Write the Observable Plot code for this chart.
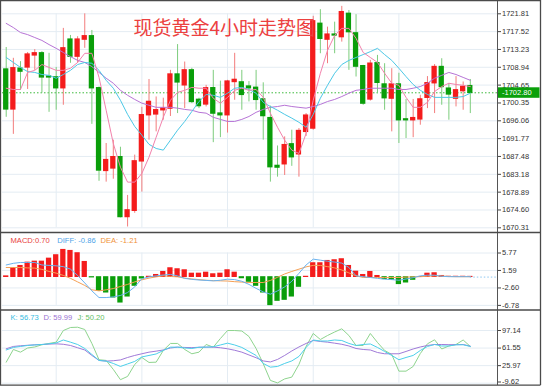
<!DOCTYPE html>
<html><head><meta charset="utf-8">
<script src="https://cdn.jsdelivr.net/npm/d3@7"></script>
<script src="https://cdn.jsdelivr.net/npm/@observablehq/plot@0.6"></script>
<style>
body{margin:0;background:#fff;}
#wrap{position:relative;width:550px;height:386px;overflow:hidden;background:#fff;}
#wrap > svg{position:absolute;left:0;}
</style></head><body><div id="wrap"></div>
<script>
// ---------- data ----------
const title = "现货黄金4小时走势图";
const open  = [1708.4,1698.8,1708.6,1708.9,1711.8,1712.3,1706.7,1706.5,1703.9,1715.6,1711.5,1715.6,1716.4,1703.9,1684.0,1684.6,1687.3,1672.9,1674.4,1686.3,1697.4,1697.6,1698.6,1699.0,1707.2,1704.6,1708.2,1701.1,1700.0,1703.9,1697.8,1697.4,1705.4,1705.3,1704.3,1704.0,1701.2,1696.7,1685.2,1685.6,1690.4,1688.0,1693.4,1694.2,1719.4,1715.6,1716.8,1716.2,1721.8,1717.1,1709.2,1701.2,1709.9,1704.8,1701.4,1704.8,1696.4,1696.2,1696.4,1701.6,1705.1,1709.0,1703.8,1701.4,1703.2,1704.4];
const high  = [1713.7,1711.1,1710.3,1712.5,1713.2,1712.7,1712.3,1708.9,1718.3,1716.6,1716.3,1721.8,1717.8,1704.2,1690.6,1691.4,1689.7,1678.1,1687.8,1699.3,1706.0,1701.8,1701.5,1708.2,1714.4,1710.2,1708.7,1701.5,1704.6,1708.2,1705.6,1705.8,1712.3,1708.2,1705.5,1708.2,1705.2,1699.6,1690.0,1692.2,1693.8,1694.2,1697.8,1721.2,1722.8,1718.6,1719.8,1723.6,1722.6,1721.6,1709.4,1710.6,1711.8,1709.8,1708.6,1707.5,1701.2,1701.2,1702.2,1706.7,1709.6,1711.0,1705.0,1706.7,1705.4,1706.0];
const low   = [1696.9,1692.8,1703.4,1703.6,1708.2,1702.7,1698.1,1698.6,1699.8,1709.9,1709.9,1713.5,1695.2,1681.5,1681.3,1682.0,1672.7,1670.5,1673.8,1678.9,1691.4,1693.4,1696.2,1697.1,1697.8,1699.0,1700.2,1699.0,1699.4,1690.8,1692.0,1693.1,1701.0,1698.6,1700.6,1698.6,1691.4,1681.3,1682.5,1682.9,1685.1,1682.5,1692.3,1693.8,1712.2,1709.8,1712.2,1715.0,1708.2,1706.6,1699.8,1700.8,1702.6,1698.6,1693.4,1690.6,1691.8,1692.0,1695.0,1699.0,1697.8,1699.8,1696.2,1699.4,1698.6,1697.8];
const close = [1698.8,1708.7,1707.9,1712.0,1712.3,1706.5,1706.5,1703.9,1713.5,1711.5,1715.6,1716.4,1703.9,1684.1,1686.6,1687.3,1672.9,1674.5,1686.3,1697.4,1700.6,1698.6,1699.0,1707.2,1705.3,1708.2,1700.6,1699.6,1703.9,1697.8,1697.4,1705.5,1705.9,1702.3,1703.9,1701.1,1697.2,1684.9,1684.8,1690.2,1687.3,1693.6,1697.3,1720.0,1715.8,1716.8,1716.6,1722.2,1717.4,1709.1,1700.2,1709.8,1705.2,1701.5,1704.8,1696.2,1696.2,1696.7,1701.2,1705.1,1709.0,1704.2,1702.4,1703.4,1704.2,1702.8];
const ma5   = [1703.9,1703.6,1703.6,1707.7,1708.2,1709.6,1708.9,1708.2,1708.2,1708.7,1710.1,1712.3,1712.3,1706.5,1698.6,1690.6,1684.9,1681.3,1681.3,1683.4,1687.3,1692.1,1696.9,1701.0,1702.9,1703.4,1704.1,1703.9,1703.9,1701.5,1700.3,1701.7,1703.4,1703.9,1703.4,1703.6,1701.7,1697.9,1694.5,1691.4,1689.0,1688.2,1693.0,1701.0,1707.5,1713.0,1716.6,1718.3,1718.3,1715.9,1712.5,1711.3,1710.1,1707.5,1705.1,1704.6,1701.7,1699.3,1699.3,1700.5,1703.1,1704.3,1705.1,1704.8,1704.6,1704.3];
const ma10  = [1711.3,1710.1,1708.9,1707.9,1707.7,1707.2,1707.0,1706.3,1707.2,1708.2,1709.6,1710.1,1709.9,1708.2,1705.8,1703.9,1701.0,1697.6,1694.7,1692.6,1690.4,1689.4,1689.0,1691.4,1693.8,1695.9,1698.3,1700.7,1702.4,1702.2,1701.7,1702.7,1703.9,1704.1,1703.6,1702.7,1700.5,1699.5,1698.6,1697.6,1696.7,1695.7,1694.5,1697.6,1701.5,1704.6,1707.5,1709.6,1710.6,1711.3,1712.0,1712.7,1713.5,1712.0,1710.6,1708.7,1706.7,1704.8,1703.4,1702.4,1701.7,1701.7,1701.7,1701.7,1701.9,1702.7];
const ma20  = [1719.5,1718.5,1717.3,1716.8,1716.1,1715.4,1714.4,1713.5,1712.5,1711.5,1710.6,1710.1,1709.1,1707.7,1706.3,1705.1,1703.4,1702.2,1701.2,1700.3,1699.8,1699.3,1699.3,1699.3,1699.1,1698.8,1698.6,1698.1,1697.9,1696.9,1696.4,1695.9,1695.9,1696.4,1697.1,1698.1,1698.8,1699.3,1699.5,1699.8,1699.5,1699.3,1699.1,1699.5,1700.0,1700.7,1701.2,1701.9,1702.7,1703.4,1703.6,1703.9,1703.9,1703.9,1703.9,1703.6,1703.6,1703.9,1704.3,1705.1,1706.3,1707.0,1707.7,1707.2,1706.5,1705.8];
const priceTicks = [1721.81,1717.52,1713.23,1708.94,1704.65,1700.35,1696.06,1691.77,1687.48,1683.18,1678.89,1674.60,1670.31];
const lastPrice = 1702.80;

const macd = [0.2,2.14,2.69,3.48,3.72,3.72,4.44,5.26,6.53,6.29,5.74,3.65,-0.1,-3.31,-3.72,-4.92,-6.12,-4.68,-2.11,-0.36,0.1,0.53,1.25,2.14,1.90,1.66,0.84,0.84,1.08,0.70,0.84,1.66,1.08,-0.3,-1.15,-2.11,-3.72,-6.74,-5.71,-5.47,-4.68,-2.35,0.1,3.34,3.34,3.89,4.06,4.30,2.69,1.32,0.53,1.25,0.29,-0.50,-0.67,-1.70,-1.32,-0.67,0.05,0.84,0.94,0.29,0.1,0.1,0.1,0.08];
const diff = [2.9,3.3,3.5,3.5,3.5,2.9,2.8,2.7,2.5,1.9,0.4,-1.4,-3.3,-4.9,-4.9,-4.75,-4.4,-3.7,-2.35,-0.4,0.05,0.3,0.5,0.65,0.3,-0.3,-0.55,-0.7,-0.8,-0.9,-0.75,-0.5,-0.6,-1.0,-1.75,-2.7,-3.55,-4.1,-3.3,-2.35,-1.0,0.9,2.9,4.3,4.05,3.8,3.6,3.35,2.3,0.3,0.1,-0.1,-0.3,-0.5,-0.6,-0.75,-0.45,-0.15,0.3,0.45,0.45,0.2,0.1,0.1,0.1,0.1];
const dea = [2.3,2.3,2.3,2.2,2.15,1.85,1.35,0.95,0.4,-0.3,-1.15,-2.0,-3.05,-3.3,-3.05,-2.75,-2.25,-1.75,-1.15,-0.65,-0.25,0.05,0.3,0.15,0.05,-0.25,-0.45,-0.6,-0.75,-0.85,-0.9,-0.95,-1.1,-1.2,-1.3,-1.3,-1.3,-0.8,-0.05,0.75,1.35,1.9,2.45,2.8,2.8,2.5,2.2,1.7,1.0,0.3,-0.1,-0.1,-0.1,-0.1,-0.1,-0.1,0.0,0.05,0.1,0.2,0.3,0.25,0.15,0.1,0.1,0.1];
const macdTicks = [5.77,1.59,-2.60,-6.78];
const macdLabels = ["MACD:0.70","DIFF: -0.86","DEA: -1.21"];

const kLine = [57.7,62.8,64.8,66.8,67.8,68.8,70.2,71.9,77.9,73.5,68.8,60.7,48.6,36.5,35.1,30.4,24.3,29.4,34.5,43.6,46.6,49.6,56.7,63.4,63.4,61.7,60.7,63.2,63.4,64.2,67.8,71.5,67.8,62.8,54.7,46.6,30.4,22.9,24.3,30.4,35.5,44.6,62.8,77.9,75.9,75.9,77.9,76.9,70.9,66.8,68.8,69.8,62.8,54.7,46.6,37.9,42.5,46.6,56.7,64.8,68.8,65.8,65.8,68.2,68.2,64.8];
const dLine = [60.1,64.8,66.2,67.2,68.2,68.8,69.6,70.2,69.2,66.8,62.2,57.7,46.6,36.5,35.1,35.9,37.5,42.5,46.6,50.0,53.3,55.3,57.7,61.7,63.4,62.8,62.4,63.2,63.4,63.4,62.2,60.1,57.1,53.3,47.6,42.0,35.5,33.4,38.5,46.6,55.7,63.8,70.9,76.9,74.9,73.5,71.5,69.2,65.8,60.7,58.7,57.7,52.6,50.0,50.0,50.0,54.7,59.7,63.8,66.8,68.8,68.8,68.4,68.4,68.8,65.4];
const jLine = [33.0,58.7,53.3,61.7,63.8,68.2,70.9,73.5,97.1,103.2,103.8,99.2,70.9,37.9,36.5,18.3,-2.5,4.1,28.4,42.5,32.4,33.0,56.7,70.9,70.9,58.7,50.0,53.3,68.8,63.4,80.9,97.1,97.1,96.1,85.0,60.7,29.8,-4.0,-9.0,-0.9,2.7,28.4,64.8,91.1,78.9,87.0,94.1,100.6,87.0,66.8,66.8,91.1,72.9,56.7,48.6,14.8,14.8,24.3,50.6,70.2,78.3,59.7,65.8,68.8,77.9,64.8];
const kdjTicks = [97.14,61.55,25.97,-9.62];
const kdjLabels = ["K: 56.73","D: 59.99","J: 50.20"];

const gridIdx = [8,20,32,44,56];

// ---------- styling ----------
const RED = "#f41c1c", GREEN = "#0a9e0a", RW = "#f37c7c", GW = "#7ccc7c";
const GRID = "#e4ecf3";
const HW = 0.37;
const XD = [0.48, 69.81];
const common = {
  width: 550, marginLeft: 2, marginRight: 53,
  x: {domain: XD, axis: null},
  color: {type: "identity"},
  style: {fontFamily: "'Liberation Sans', Arial, sans-serif", fontSize: "7.5px", color: "#333", background: "transparent", overflow: "visible"}
};
const idx = d3.range(66);
const rows = idx.map(k => ({i: k + 1, o: open[k], h: high[k], l: low[k], c: close[k], up: close[k] >= open[k],
  m5: ma5[k], m10: ma10[k], m20: ma20[k], macd: macd[k], diff: diff[k], dea: dea[k], K: kLine[k], D: dLine[k], J: jLine[k]}));
const fmt = d => d.toFixed(2);
const axis = (ticks, extra = {}) => Plot.axisY({anchor: "right", ticks, tickFormat: fmt, tickSize: 3, tickPadding: 1.5, fontSize: 7.5, stroke: "#444", ...extra});

// ---------- main price panel ----------
const main = Plot.plot({
  ...common, height: 233, marginTop: 13.3, marginBottom: 5.7,
  y: {domain: [1670.31, 1721.81], axis: null},
  marks: [
    Plot.ruleY(priceTicks, {stroke: GRID}),
    Plot.ruleX(gridIdx, {stroke: GRID}),
    Plot.ruleY([lastPrice], {stroke: "#3cba3c", strokeDasharray: "1.5,2"}),
    Plot.ruleX(rows, {x: "i", y1: "l", y2: "h", stroke: d => d.up ? RW : GW, strokeWidth: 1}),
    Plot.rect(rows, {x1: d => d.i - HW, x2: d => d.i + HW, y1: "o", y2: "c", fill: d => d.up ? RED : GREEN, insetTop: -0.7, insetBottom: -0.7}),
    Plot.line(rows, {x: "i", y: "m20", stroke: "#b774d6", strokeWidth: 1}),
    Plot.line(rows, {x: "i", y: "m10", stroke: "#4cc8e6", strokeWidth: 1}),
    Plot.line(rows, {x: "i", y: "m5", stroke: "#f282ac", strokeWidth: 1}),
    axis(priceTicks),
    Plot.text([title], {text: d => d, frameAnchor: "top-left", dx: 131, dy: 15, textAnchor: "start", lineAnchor: "middle",
      fontSize: 19, fill: "#ec4040", fontFamily: "'Noto Sans CJK SC', sans-serif"})
  ]
});
main.style.top = "0px";

// ---------- MACD panel ----------
const macdX = [8, 54.7, 98];
const macdCol = ["#e8403c", "#4da3e8", "#f0913a"];
const macdPlot = Plot.plot({
  ...common, height: 77, marginTop: 19.5, marginBottom: 5.1,
  y: {domain: [-6.78, 5.77], axis: null},
  marks: [
    Plot.ruleY(macdTicks, {stroke: GRID}),
    Plot.ruleX(gridIdx, {stroke: GRID}),
    Plot.rect(rows, {x1: d => d.i - HW, x2: d => d.i + HW, y1: d => 0, y2: "macd", fill: d => d.macd >= 0 ? RED : GREEN, insetTop: -0.4, insetBottom: -0.4}),
    Plot.ruleY([0], {x1: d => 66, x2: d => 69.81, stroke: "#8cc6f0", strokeDasharray: "1.5,2"}),
    Plot.line(rows, {x: "i", y: "dea", stroke: "#f5a055", strokeWidth: 1}),
    Plot.line(rows, {x: "i", y: "diff", stroke: "#6ab2ef", strokeWidth: 1}),
    axis(macdTicks),
    ...macdLabels.map((t, k) => Plot.text([t], {text: d => d, frameAnchor: "top-left", dx: macdX[k], dy: -12.5, textAnchor: "start", lineAnchor: "middle", fontSize: 7.6, fill: macdCol[k]}))
  ]
});
macdPlot.style.top = "233px";

// ---------- KDJ panel ----------
const kdjX = [8, 41, 75];
const kdjCol = ["#36bde2", "#9a72d2", "#62c062"];
const kdjPlot = Plot.plot({
  ...common, height: 74, marginTop: 19, marginBottom: 2.3,
  y: {domain: [-9.62, 97.14], axis: null},
  marks: [
    Plot.ruleY(kdjTicks, {stroke: GRID}),
    Plot.ruleX(gridIdx, {stroke: GRID}),
    Plot.line(rows, {x: "i", y: "J", stroke: "#8ed48e", strokeWidth: 1}),
    Plot.line(rows, {x: "i", y: "D", stroke: "#a07ad8", strokeWidth: 1}),
    Plot.line(rows, {x: "i", y: "K", stroke: "#4cd0ea", strokeWidth: 1}),
    axis(kdjTicks.slice(0, 3)),
    axis(kdjTicks.slice(3), {dy: -1.2}),
    ...kdjLabels.map((t, k) => Plot.text([t], {text: d => d, frameAnchor: "top-left", dx: kdjX[k], dy: -12.7, textAnchor: "start", lineAnchor: "middle", fontSize: 7.6, fill: kdjCol[k]}))
  ]
});
kdjPlot.style.top = "311px";

const wrap = document.getElementById("wrap");
wrap.append(main, macdPlot, kdjPlot);

// ---------- frame, separators, price tag ----------
const ov = d3.select(wrap).append("svg").attr("width", 550).attr("height", 386).style("top", "0px")
  .style("font-family", "'Liberation Sans', Arial, sans-serif");
const ax = 497.5;
ov.append("line").attr("x1", ax).attr("x2", ax).attr("y1", 0).attr("y2", 385).attr("stroke", "#555");
[[0, 0.5, 540.5, 0.5], [0.5, 0, 0.5, 385], [540.5, 0, 540.5, 385], [0, 385.2, 540.5, 385.2], [0, 232.5, 540.5, 232.5], [0, 310, 540.5, 310]]
  .forEach(([x1, y1, x2, y2]) => ov.append("line").attr("x1", x1).attr("y1", y1).attr("x2", x2).attr("y2", y2).attr("stroke", "#4a4a4a").attr("stroke-width", 1.3));
const py = main.scale("y").apply(lastPrice);
ov.append("rect").attr("x", 498).attr("y", py - 5).attr("width", 41.5).attr("height", 10.5).attr("fill", "#0aa00a");
ov.append("text").attr("x", 502).attr("y", py + 3).attr("fill", "#fff").attr("font-size", 7.5).text("-" + fmt(lastPrice));
</script></body></html>
